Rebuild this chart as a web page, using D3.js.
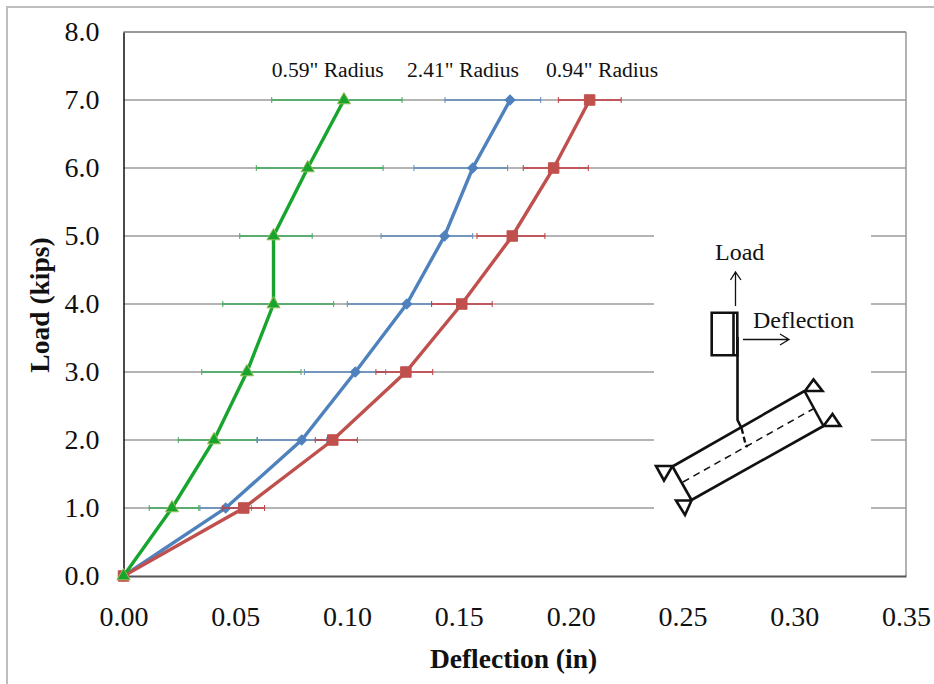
<!DOCTYPE html>
<html lang="en">
  <head>
    <meta charset="utf-8">
    <script src="https://d3js.org/d3.v7.min.js"></script>
    <style>
      html, body { margin: 0; padding: 0; background: #fff; }
      svg { display: block; }
      text { font-family: "Liberation Serif", serif; fill: #111; }
    </style>
  </head>
  <body>
    <svg width="934" height="684"></svg>
    <script>
      // values
      var loads = [0, 1, 2, 3, 4, 5, 6, 7];

      var blueDefl = [0, 0.0457, 0.0797, 0.1037, 0.1267, 0.1436, 0.1562, 0.1729];
      var blueLow = [0, 0.0342, 0.0597, 0.0809, 0.1001, 0.1152, 0.1299, 0.1438];
      var blueHigh = [0, 0.0572, 0.0909, 0.1173, 0.1378, 0.1562, 0.1718, 0.1866];

      var redDefl = [0, 0.0538, 0.0936, 0.1263, 0.1513, 0.1739, 0.1924, 0.2085];
      var redLow = [0, 0.0444, 0.0858, 0.1129, 0.1378, 0.1581, 0.1788, 0.1945];
      var redHigh = [0, 0.0631, 0.1046, 0.1383, 0.1649, 0.1885, 0.2079, 0.2226];

      var greenDefl = [0, 0.0217, 0.0405, 0.0552, 0.0671, 0.0671, 0.0824, 0.0986];
      var greenLow = [0, 0.0115, 0.0245, 0.035, 0.0444, 0.052, 0.0594, 0.0663];
      var greenHigh = [0, 0.0337, 0.0599, 0.0794, 0.094, 0.0844, 0.1161, 0.1246];

      var xTicks = [0, 0.05, 0.1, 0.15, 0.2, 0.25, 0.3, 0.35];
      var yTicks = [0, 1, 2, 3, 4, 5, 6, 7, 8];

      var svg = d3.select("svg");

      var left = 123.5, right = 906, top_ = 32, bottom = 576;
      var xScale = d3.scaleLinear().domain([0, 0.35]).range([left, right]);
      var yScale = d3.scaleLinear().domain([0, 8]).range([bottom, top_]);

      // outer frame of the pasted chart
      svg.append("path")
        .attr("d", "M7,684V7H934")
        .style("fill", "none")
        .style("stroke", "#bdbdbd")
        .style("stroke-width", 2);

      // gridlines
      svg.append("g")
        .selectAll("line")
        .data(yTicks.slice(1))
        .enter()
        .append("line")
        .attr("x1", left)
        .attr("x2", right)
        .attr("y1", function (d) { return yScale(d); })
        .attr("y2", function (d) { return yScale(d); })
        .style("stroke", function (d) { return d == 8 ? "#999" : "#b4b4b4"; })
        .style("stroke-width", 2);

      // right edge of the plot
      svg.append("line")
        .attr("x1", right).attr("x2", right)
        .attr("y1", top_).attr("y2", bottom)
        .style("stroke", "#999")
        .style("stroke-width", 1.5);

      // white box behind the sketch hides the gridlines
      svg.append("rect")
        .attr("x", 654).attr("y", 190)
        .attr("width", 217).attr("height", 360)
        .style("fill", "#fff");

      // axes
      var xAxis = svg.append("g")
        .attr("transform", "translate(0," + bottom + ")")
        .call(d3.axisBottom(xScale).tickValues(xTicks).tickSize(0).tickPadding(30).tickFormat(d3.format(".2f")));
      var yAxis = svg.append("g")
        .attr("transform", "translate(" + left + ",0)")
        .call(d3.axisLeft(yScale).tickValues(yTicks).tickSize(0).tickPadding(24).tickFormat(d3.format(".1f")));
      xAxis.selectAll("text").style("font-family", '"Liberation Serif", serif').style("font-size", "28px").style("fill", "#111");
      yAxis.selectAll("text").style("font-family", '"Liberation Serif", serif').style("font-size", "28px").style("fill", "#111");
      xAxis.select(".domain").style("stroke", "#555").style("stroke-width", 2);
      yAxis.select(".domain").style("stroke", "#111").style("stroke-width", 1.5);

      // axis titles
      svg.append("text")
        .attr("x", 513.5)
        .attr("y", 668)
        .attr("text-anchor", "middle")
        .style("font-size", "27.5px")
        .style("font-weight", "bold")
        .text("Deflection (in)");
      svg.append("text")
        .attr("text-anchor", "middle")
        .attr("transform", "translate(49,305)rotate(-90)")
        .style("font-size", "27.5px")
        .style("font-weight", "bold")
        .text("Load (kips)");

      // series labels
      var seriesLabels = ['0.59" Radius', '2.41" Radius', '0.94" Radius'];
      var labelX = [0.0663, 0.1268, 0.189];
      svg.append("g")
        .selectAll("text")
        .data(seriesLabels)
        .enter()
        .append("text")
        .attr("x", function (d, i) { return xScale(labelX[i]); })
        .attr("y", 77)
        .style("font-size", "21.6px")
        .text(function (d) { return d; });

      var series = [
        { defl: blueDefl, low: blueLow, high: blueHigh, line: "#4f81bd", err: "#5f8cc0", symbol: d3.symbolSquare, angle: 45, size: 50, fill: "#4f81bd", edge: "#4f81bd" },
        { defl: redDefl, low: redLow, high: redHigh, line: "#c0504d", err: "#c23a40", symbol: d3.symbolSquare, angle: 0, size: 110, fill: "#c0504d", edge: "#c0504d" },
        { defl: greenDefl, low: greenLow, high: greenHigh, line: "#17a52e", err: "#3fa85a", symbol: d3.symbolTriangle, angle: 0, size: 75, fill: "#17a52e", edge: "#9bbb59" }
      ];

      var line = d3.line()
        .x(function (d) { return xScale(d[0]); })
        .y(function (d) { return yScale(d[1]); });

      series.forEach(function (s) {
        var g = svg.append("g");
        var rows = loads.map(function (l, i) {
          return { load: l, x: s.defl[i], low: s.low[i], high: s.high[i] };
        }).filter(function (d) { return d.load > 0; });

        // error bars
        g.selectAll("line.bar").data(rows).enter().append("line")
          .attr("class", "bar")
          .attr("x1", function (d) { return xScale(d.low); })
          .attr("x2", function (d) { return xScale(d.high); })
          .attr("y1", function (d) { return yScale(d.load); })
          .attr("y2", function (d) { return yScale(d.load); })
          .style("stroke", s.err)
          .style("stroke-width", 1.6);
        ["low", "high"].forEach(function (k) {
          g.selectAll("line." + k).data(rows).enter().append("line")
            .attr("class", k)
            .attr("x1", function (d) { return xScale(d[k]); })
            .attr("x2", function (d) { return xScale(d[k]); })
            .attr("y1", function (d) { return yScale(d.load) - 3; })
            .attr("y2", function (d) { return yScale(d.load) + 3; })
            .style("stroke", s.err)
            .style("stroke-width", 1);
        });

        g.append("path")
          .datum(s.defl.map(function (d, i) { return [d, loads[i]]; }))
          .attr("d", line)
          .style("fill", "none")
          .style("stroke", s.line)
          .style("stroke-width", 3.4);

        g.selectAll("path.mark").data(s.defl).enter().append("path")
          .attr("class", "mark")
          .attr("d", d3.symbol().type(s.symbol).size(s.size))
          .attr("transform", function (d, i) {
            return "translate(" + xScale(d) + "," + yScale(loads[i]) + ")rotate(" + s.angle + ")";
          })
          .style("fill", s.fill)
          .style("stroke", s.edge)
          .style("stroke-width", 1);
      });

      // loading sketch, page coordinates
      var sketchSolid = [
        "M711.7,312.7H737.3V355.3H711.7Z",
        "M733.5,312.7V355.3",
        "M737.5,337V420L741.5,428",
        "M735.5,306V272M730.5,280L735.5,272L741,280",
        "M743,339.5H789M780,334L789,339.5L780,345",
        "M672.5,466.5L804.5,391",
        "M691.5,500L823.5,426",
        "M672.5,466.5L691.5,500",
        "M804.5,391L823.5,426",
        "M805,391H822.5L813.5,379.5Z",
        "M823.5,426H840.5L832.5,414Z",
        "M656,466H672.5L664,480.5Z",
        "M676,500.5H691.5L685,515Z"
      ];
      var sketch = svg.append("g");
      sketch.selectAll("path").data(sketchSolid).enter().append("path")
        .attr("d", function (d) { return d; })
        .style("fill", "none")
        .style("stroke", "#111")
        .style("stroke-width", function (d, i) { return (i == 3 || i == 4) ? 1.3 : 2.6; });
      sketch.append("path")
        .attr("d", "M683,482L813,409")
        .style("fill", "none")
        .style("stroke", "#111")
        .style("stroke-width", 1.5)
        .style("stroke-dasharray", "7,5");
      sketch.append("path")
        .attr("d", "M741.5,428L746,446H748")
        .style("fill", "none")
        .style("stroke", "#111")
        .style("stroke-width", 2.4)
        .style("stroke-dasharray", "6,3");
      sketch.append("text").attr("x", 715).attr("y", 260).style("font-size", "24px").text("Load");
      sketch.append("text").attr("x", 753).attr("y", 328).style("font-size", "24px").text("Deflection");
    </script>
  </body>
</html>
